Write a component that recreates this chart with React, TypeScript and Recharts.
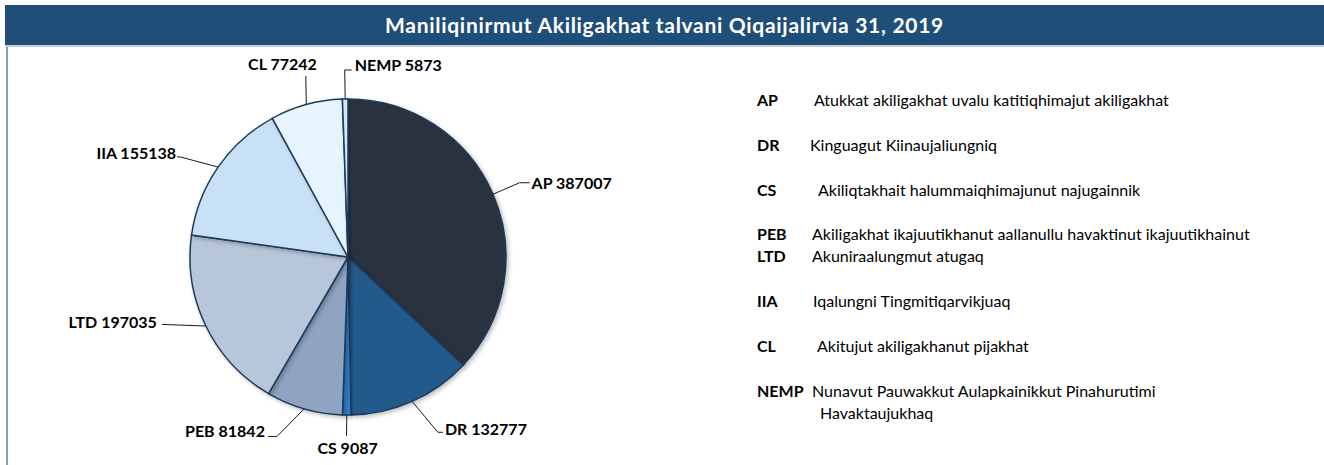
import React from 'react';
import { PieChart, Pie, Cell } from 'recharts';

const title = 'Maniliqinirmut Akiligakhat talvani Qiqaijalirvia 31, 2019';
const categories = ['AP', 'DR', 'CS', 'PEB', 'LTD', 'IIA', 'CL', 'NEMP'];
const values = [387007, 132777, 9087, 81842, 197035, 155138, 77242, 5873];
const descriptions = [
  ['Atukkat akiligakhat uvalu katitiqhimajut akiligakhat'],
  ['Kinguagut Kiinaujaliungniq'],
  ['Akiliqtakhait halummaiqhimajunut najugainnik'],
  ['Akiligakhat ikajuutikhanut aallanullu havaktinut ikajuutikhainut'],
  ['Akuniraalungmut atugaq'],
  ['Iqalungni Tingmitiqarvikjuaq'],
  ['Akitujut akiligakhanut pijakhat'],
  ['Nunavut Pauwakkut Aulapkainikkut Pinahurutimi', 'Havaktaujukhaq'],
];

const data = categories.map((name, i) => ({ name, value: values[i] }));

const COLORS = ['#29323F', '#245A8B', '#2F7BC8', '#8EA4C0', '#B8C6D9', '#C8E1F7', '#E8F4FD', '#D3E4F4'];

// label placement (Excel-like manual positions) relative to each slice's mid angle
const LABEL_LAYOUT = [
  { adj: 0, ext: 29, tick: 10, dx: 2, dy: 0, anchor: 'start' },
  { adj: 3.2, ext: 39, tick: 5, dx: 2, dy: -4, anchor: 'start' },
  { adj: 0, ext: 21, tick: 0, dx: 1, dy: 12, anchor: 'middle' },
  { adj: -5.5, ext: 35, tick: -9, dx: -3, dy: -6, anchor: 'end' },
  { adj: -6, ext: 40, tick: 0, dx: -5, dy: -3, anchor: 'end' },
  { adj: 3.9, ext: 37.5, tick: -3, dx: -1, dy: -4, anchor: 'end' },
  { adj: -2.2, ext: 28, tick: 0, dx: 11, dy: -12, anchor: 'end' },
  { adj: 0, ext: 29, tick: 7, dx: 3, dy: -6, anchor: 'start' },
];

// right-hand key layout
const KEY_ROWS_Y = [99, 144, 189, 233, 255, 300, 345, 390];
const KEY_DESC_X = [814, 810, 818, 812, 812, 813, 817, 812];
const KEY_LINE2_X = 820;
const KEY_LINE_GAP = 22;
const KEY_FONT = 16;

const RAD = Math.PI / 180;
const FONT = 'Lato, "Open Sans", "Noto Sans", sans-serif';

const renderLabel = (props: any) => {
  const { cx, cy, midAngle, outerRadius, index, name, value } = props;
  const L = LABEL_LAYOUT[index];
  const a0 = -midAngle * RAD;
  const ex = cx + outerRadius * Math.cos(a0);
  const ey = cy + outerRadius * Math.sin(a0);
  const a1 = -(midAngle + L.adj) * RAD;
  const r1 = outerRadius + L.ext;
  const px = cx + r1 * Math.cos(a1);
  const py = cy + r1 * Math.sin(a1);
  const hx = px + L.tick;
  return (
    <g key={`lbl-${index}`}>
      <polyline
        points={`${ex},${ey} ${px},${py} ${hx},${py}`}
        fill="none"
        stroke="#1a1a1a"
        strokeWidth={1}
      />
      <text
        x={hx + L.dx}
        y={py + L.dy}
        textAnchor={L.anchor}
        dominantBaseline="central"
        fontFamily={FONT}
        fontWeight={700}
        fontSize={16}
        fill="#000"
      >
        {`${name} ${value}`}
      </text>
    </g>
  );
};

export default function App() {
  return (
    <div
      style={{
        position: 'relative',
        width: 1324,
        height: 465,
        background: '#fff',
        overflow: 'hidden',
        fontFamily: FONT,
      }}
    >
      <style>{'body{margin:0}'}</style>
      <div
        style={{
          position: 'absolute',
          left: 5,
          top: 5,
          width: 1319,
          height: 40,
          background: '#1F4E79',
          color: '#fff',
          fontWeight: 700,
          fontSize: 21,
          letterSpacing: 0.7,
          lineHeight: '40px',
          textAlign: 'center',
          boxSizing: 'border-box',
        }}
      >
        {title}
      </div>
      <div
        style={{
          position: 'absolute',
          left: 5,
          top: 45,
          width: 1319,
          height: 2,
          background: '#C3CFDD',
        }}
      />
      <div
        style={{
          position: 'absolute',
          left: 6,
          top: 47,
          width: 2,
          height: 418,
          background: '#7F9DC3',
        }}
      />
      <div style={{ position: 'absolute', left: 0, top: 0 }}>
        <PieChart width={1324} height={465} margin={{ top: 0, right: 0, bottom: 0, left: 0 }}>
          <defs>
            <filter id="sliceShadow" x="-20%" y="-20%" width="140%" height="140%">
              <feDropShadow dx="2" dy="2" stdDeviation="2" floodColor="#000" floodOpacity="0.25" />
            </filter>
          </defs>
          <Pie
            data={data}
            dataKey="value"
            nameKey="name"
            cx={348}
            cy={257}
            outerRadius={158}
            startAngle={90}
            endAngle={-270}
            stroke="#1E3B5C"
            strokeWidth={1.5}
            label={renderLabel}
            labelLine={false}
            isAnimationActive={false}
          >
            {data.map((d, i) => (
              <Cell key={d.name} fill={COLORS[i]} style={{ filter: 'url(#sliceShadow)' }} />
            ))}
          </Pie>
        </PieChart>
      </div>
      <svg
        width={1324}
        height={465}
        style={{ position: 'absolute', left: 0, top: 0, pointerEvents: 'none' }}
      >
        {categories.map((c, i) => (
          <g key={c}>
            <text
              x={757}
              y={KEY_ROWS_Y[i]}
              dominantBaseline="central"
              fontFamily={FONT}
              fontWeight={700}
              fontSize={KEY_FONT}
              fill="#000"
            >
              {c}
            </text>
            {descriptions[i].map((line, j) => (
              <text
                key={j}
                x={j === 0 ? KEY_DESC_X[i] : KEY_LINE2_X}
                y={KEY_ROWS_Y[i] + j * KEY_LINE_GAP}
                dominantBaseline="central"
                fontFamily={FONT}
                fontSize={KEY_FONT}
                fill="#000"
              >
                {line}
              </text>
            ))}
          </g>
        ))}
      </svg>
    </div>
  );
}
